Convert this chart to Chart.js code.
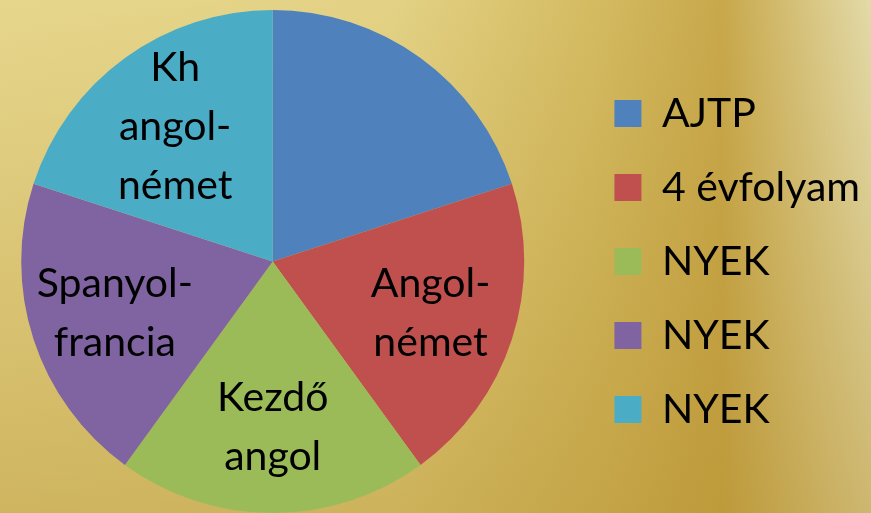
<!DOCTYPE html>
<html>
<head>
<meta charset="utf-8">
<script src="https://cdn.jsdelivr.net/npm/chart.js@4"></script>
<style>
  html, body { margin: 0; padding: 0; background: #ddc878; }
  #wrap { width: 871px; height: 513px; }
</style>
</head>
<body>
<div id="wrap"><canvas id="pie"></canvas></div>
<script>
// legend labels, one per slice
const legendLabels = ['AJTP', '4 évfolyam', 'NYEK', 'NYEK', 'NYEK'];
// text written inside each slice (first slice has none)
const sliceLabels = ['', 'Angol-\nnémet', 'Kezdő\nangol', 'Spanyol-\nfrancia', 'Kh\nangol-\nnémet'];
const sliceValues = [1, 1, 1, 1, 1];
const sliceColors = ['#4f81bd', '#c0504d', '#9bbb59', '#8064a2', '#4bacc6'];

const FONT = 'Lato, "Open Sans", sans-serif';
const LEGEND_SHIFT = 56;

const goldBackground = {
    id: 'goldBackground',
    beforeDraw(chart) {
        const { ctx, width, height } = chart;
        ctx.save();
        const g = ctx.createLinearGradient(0, 0, width, 0);
        g.addColorStop(0, '#e6d68c');
        g.addColorStop(0.45, '#e3d285');
        g.addColorStop(0.68, '#d4bb62');
        g.addColorStop(0.83, '#c8a84b');
        g.addColorStop(1, '#e3daa8');
        ctx.fillStyle = g;
        ctx.fillRect(0, 0, width, height);
        const v = ctx.createLinearGradient(0, 0, 0, height);
        v.addColorStop(0, 'rgba(175,135,35,0)');
        v.addColorStop(1, 'rgba(175,135,35,0.42)');
        ctx.fillStyle = v;
        ctx.fillRect(0, 0, width, height);
        ctx.restore();
    }
};

// move the legend column to the right, like the original slide
const legendNudge = {
    id: 'legendNudge',
    afterLayout(chart) {
        chart.legend.left += LEGEND_SHIFT;
        chart.legend.right += LEGEND_SHIFT;
    }
};

const sliceText = {
    id: 'sliceText',
    afterDatasetsDraw(chart) {
        const { ctx } = chart;
        const meta = chart.getDatasetMeta(0);
        ctx.save();
        ctx.font = '41px ' + FONT;
        ctx.fillStyle = '#000';
        ctx.textAlign = 'center';
        ctx.textBaseline = 'middle';
        meta.data.forEach((arc, i) => {
            const text = sliceLabels[i];
            if (!text) return;
            const lines = text.split('\n');
            const mid = (arc.startAngle + arc.endAngle) / 2;
            const r = arc.outerRadius * 0.66;
            const cx = arc.x + Math.cos(mid) * r;
            const cy = arc.y + Math.sin(mid) * r;
            const lh = 59;
            lines.forEach((line, j) => {
                ctx.fillText(line, cx, cy + (j - (lines.length - 1) / 2) * lh);
            });
        });
        ctx.restore();
    }
};

new Chart(document.getElementById('pie'), {
    type: 'pie',
    data: {
        labels: legendLabels,
        datasets: [{
            data: sliceValues,
            backgroundColor: sliceColors,
            borderWidth: 0
        }]
    },
    options: {
        responsive: true,
        maintainAspectRatio: false,
        animation: false,
        layout: { padding: { top: 10, left: 20, right: 57, bottom: 0 } },
        plugins: {
            tooltip: { enabled: false },
            legend: {
                position: 'right',
                labels: {
                    color: '#000',
                    boxWidth: 27,
                    boxHeight: 27,
                    padding: 33,
                    font: { family: FONT, size: 41 }
                }
            }
        }
    },
    plugins: [goldBackground, legendNudge, sliceText]
});
</script>
</body>
</html>
